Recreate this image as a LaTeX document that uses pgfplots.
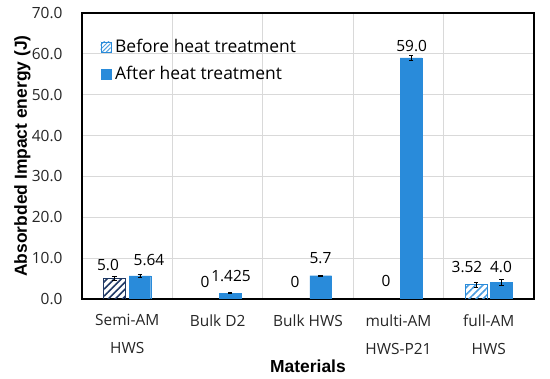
\documentclass[border=0pt]{standalone}
\usepackage{fontspec}
\setmainfont{Open Sans}
\newfontfamily\titlefont{Liberation Sans}
\usepackage{pgfplots}
\pgfplotsset{compat=1.18}
\usetikzlibrary{patterns.meta}
\definecolor{barblue}{RGB}{41,139,218}
\definecolor{navy}{RGB}{31,56,100}
\definecolor{gridgray}{RGB}{217,217,217}
\begin{document}
\begin{tikzpicture}
\begin{axis}[
  scale only axis, width=452bp, height=286bp,
  xmin=-0.5, xmax=4.5, ymin=0, ymax=70,
  /pgf/number format/assume math mode=true,
  xtick={0,1,2,3,4},
  xticklabels={{Semi-AM\\HWS},{Bulk D2},{Bulk HWS},{multi-AM\\HWS-P21},{full-AM\\HWS}},
  xticklabel style={align=center, font=\fontsize{15.5}{28}\selectfont, text=black!85, yshift=-12bp},
  minor xtick={0.5,1.5,2.5,3.5},
  xminorgrids, minor x grid style={gridgray, line width=0.8bp},
  ytick={0,10,...,70},
  yticklabel={\pgfmathprintnumber[fixed,fixed zerofill,precision=1]{\tick}},
  yticklabel style={font=\fontsize{15.5}{18}\selectfont, text=black!85, xshift=-16bp},
  ymajorgrids, major grid style={gridgray, line width=0.8bp},
  tick style={draw=none},
  axis line style={black, line width=1.2bp},
  xlabel={\titlefont\bfseries\fontsize{17.5}{20}\selectfont Materials},
  xlabel style={at={(axis description cs:0.5,-0.234)}, anchor=center},
  ylabel={\titlefont\bfseries\fontsize{17.5}{20}\selectfont Absorbded Impact energy (J)},
  ylabel style={at={(axis description cs:-0.132,0.5)}, anchor=center},
  legend style={at={(axis description cs:0.04,0.915)}, anchor=north west, draw=none, fill=none,
    font=\fontsize{17.5}{20}\selectfont, row sep=8bp, inner sep=0pt,
    nodes={inner xsep=4bp}},
  legend cell align=left,
  legend image code/.code={\draw[#1] (0bp,-5bp) rectangle (10bp,5bp);},
  error bars/error bar style={black, line width=0.6bp},
  error bars/error mark options={rotate=90, mark size=2.2bp, black, line width=0.6bp},
]
\addlegendimage{draw=barblue, pattern={Lines[angle=45,distance=3bp,line width=0.9bp]}, pattern color=barblue!80}
\addlegendentry{Before heat treatment}
\addlegendimage{draw=barblue, fill=barblue}
\addlegendentry{After heat treatment}

% Before heat treatment (bars placed at their own x)
\addplot[forget plot, ybar, bar width=0.24, bar shift=0, draw=navy, line width=0.8bp,
  pattern={Lines[angle=45,distance=5bp,line width=1.6bp]}, pattern color=navy,
  error bars/.cd, y dir=both, y explicit]
  coordinates {(-0.14,5.0) +- (0,0.5)};
\addplot[forget plot, ybar, bar width=0.24, bar shift=0, draw=barblue, line width=0.8bp,
  pattern={Lines[angle=45,distance=5bp,line width=1.6bp]}, pattern color=barblue!85,
  error bars/.cd, y dir=both, y explicit]
  coordinates {(3.86,3.52) +- (0,0.6)};

% After heat treatment
\addplot[forget plot, ybar, bar width=0.24, bar shift=0, draw=barblue, fill=barblue,
  error bars/.cd, y dir=both, y explicit]
  coordinates {(0.14,5.64) +- (0,0.4) (1.14,1.425) +- (0,0.15) (2.14,5.7) +- (0,0.1) (3.14,59.0) +- (0,0.6) (4.14,4.0) +- (0,0.7)};

% Value labels
\addplot[forget plot, draw=none, mark=none, nodes near coords, point meta=explicit symbolic,
  nodes near coords style={anchor=base, inner sep=0pt, font=\fontsize{15.5}{18}\selectfont, text=black}]
  coordinates {(-0.212,7.0) [5.0] (0.241,8.2) [5.64] (0.861,2.9) [0] (1.148,4.2) [1.425]
    (1.856,2.9) [0] (2.138,8.6) [5.7] (2.863,3.0) [0] (3.147,60.5) [59.0]
    (3.759,6.5) [3.52] (4.135,6.4) [4.0]};
\end{axis}
\path ([xshift=-82bp,yshift=-80bp]current axis.south west) rectangle ([xshift=16bp,yshift=13bp]current axis.north east);
\end{tikzpicture}
\end{document}
